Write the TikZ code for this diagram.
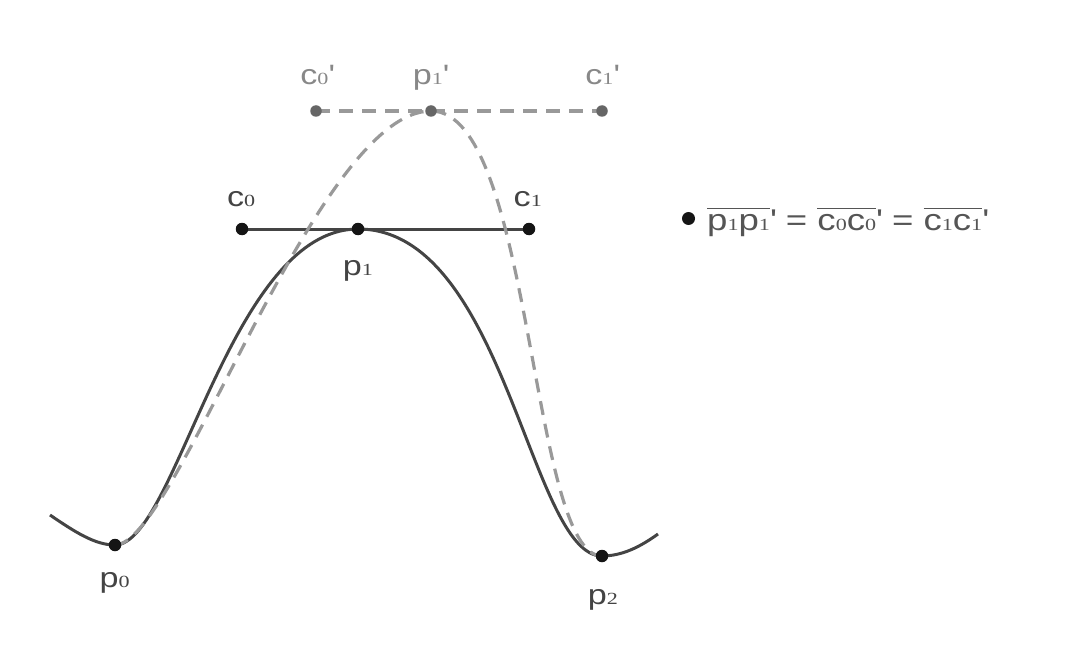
\documentclass[tikz,border=0pt]{standalone}
\usepackage{fontspec}
\setmainfont{Liberation Sans}[FakeStretch=1.22]
\newfontfamily\serifdig{Liberation Serif}[FakeStretch=1.3]
\newcommand\sdig[1]{{\serifdig\fontsize{17}{17}\selectfont #1}}
\newcommand\fdig[1]{{\serifdig\fontsize{17}{17}\selectfont #1}}
\newcommand\prm{\textquotesingle}
\newcommand\ovl[1]{$\overline{\hbox{\rule{0pt}{20pt}#1}}$}
\definecolor{curvecol}{HTML}{444444}
\definecolor{dashcol}{HTML}{999999}
\definecolor{labcol}{HTML}{444444}
\definecolor{formcol}{HTML}{555555}
\definecolor{primecol}{HTML}{888888}
\definecolor{dotcol}{HTML}{151515}
\definecolor{pdotcol}{HTML}{666666}
\tikzset{
  solidcurve/.style={draw=curvecol, line width=3pt},
  dashcurve/.style={draw=dashcol, line width=3.2pt, dash pattern=on 14pt off 9pt},
  dotmark/.style={circle, fill=dotcol, inner sep=0pt, minimum size=12.5pt},
  pdotmark/.style={circle, fill=pdotcol, inner sep=0pt, minimum size=11.5pt},
  lab/.style={text=labcol, anchor=base west, inner sep=0pt, font=\fontsize{28}{28}\selectfont},
  plab/.style={text=primecol, anchor=base west, inner sep=0pt, font=\fontsize{28}{28}\selectfont},
  formlab/.style={text=formcol, anchor=base west, inner sep=0pt, font=\fontsize{30}{30}\selectfont}
}
\begin{document}
\begin{tikzpicture}[x=1pt,y=-1pt]
\useasboundingbox (0,0) rectangle (1065,671);
% points
\coordinate (p0) at (115,545);
\coordinate (p1) at (358,229);
\coordinate (p2) at (602,556);
\coordinate (c0) at (242,229);
\coordinate (c1) at (529,229);
\coordinate (c0p) at (316,111);
\coordinate (p1p) at (431,111);
\coordinate (c1p) at (602,111);
\coordinate (tl) at (50,515);
\coordinate (tr) at (658,534);
% solid curve
\draw[solidcurve] (tl) .. controls (75,532) and (95,545) .. (p0)
  .. controls (176,545) and (229,229) .. (p1)
  .. controls (505,229) and (530,556) .. (p2)
  .. controls (622,556) and (640,547) .. (tr);
% handle
\draw[solidcurve] (c0) -- (c1);
% dashed curve
\draw[dashcurve] (p0) .. controls (176,545) and (c0p) .. (p1p)
  .. controls (533,111) and (530,556) .. (p2);
\draw[dashcurve] (c0p) -- (c1p);
% dots
\node[dotmark] (d-p0) at (p0) {};
\node[dotmark] (d-p1) at (p1) {};
\node[dotmark] (d-p2) at (p2) {};
\node[dotmark] (d-c0) at (c0) {};
\node[dotmark] (d-c1) at (c1) {};
\node[pdotmark] (d-c0p) at (c0p) {};
\node[pdotmark] (d-p1p) at (p1p) {};
\node[pdotmark] (d-c1p) at (c1p) {};
% labels
\node[lab] (l-c0) at (226.8,207) {c\sdig{0}};
\node[lab] (l-c1) at (513.5,207) {c\sdig{1}};
\node[lab] (l-p1) at (342.7,275) {p\sdig{1}};
\node[lab] (l-p0) at (99.4,587) {p\sdig{0}};
\node[lab] (l-p2) at (587.7,604) {p\sdig{2}};
\node[plab] (l-c0p) at (300.2,85) {c\sdig{0}\prm};
\node[plab] (l-p1p) at (412.7,85) {p\sdig{1}\prm};
\node[plab] (l-c1p) at (585.2,85) {c\sdig{1}\prm};
% formula
\node[dotmark, minimum size=13pt] (bul) at (688.5,218.5) {};
\node[formlab] (form) at (707,230) {\ovl{p\fdig{1}p\fdig{1}}\prm{} = \ovl{c\fdig{0}c\fdig{0}}\prm{} = \ovl{c\fdig{1}c\fdig{1}}\prm};
\end{tikzpicture}
\end{document}
